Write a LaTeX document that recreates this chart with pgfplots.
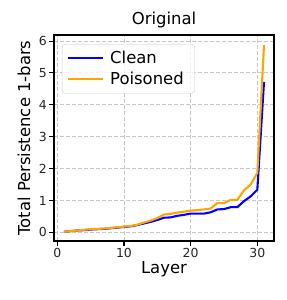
\documentclass[border=0pt]{standalone}
\usepackage{fontspec}
\setmainfont{DejaVu Sans}
\usepackage{pgfplots}
\pgfplotsset{compat=1.18}
\begin{document}
\begin{tikzpicture}[x=1bp,y=1bp]
\useasboundingbox (0,0) rectangle (287,300);
\begin{axis}[
  at={(54bp,59bp)}, anchor=south west,
  scale only axis, width=220bp, height=206bp,
  xmin=-0.5, xmax=32.5, ymin=-0.27, ymax=6.19,
  xtick={0,10,20,30}, ytick={0,1,2,3,4,5,6},
  /pgf/number format/assume math mode=true,
  tick label style={font=\fontsize{12.5}{14}\selectfont, text=black!85},
  ticklabel style={inner sep=2bp},
  label style={font=\fontsize{16.5}{19}\selectfont},
  title style={font=\fontsize{16.5}{19}\selectfont, yshift=-2bp},
  title={Original},
  xlabel={Layer}, ylabel={Total Persistence 1-bars},
  xlabel style={yshift=2bp},
  ylabel style={yshift=3bp},
  tick align=outside, tick pos=left,
  major tick length=4.9bp,
  every tick/.style={line width=1.1bp, black},
  axis line style={line width=1.1bp},
  grid=major,
  major grid style={line width=0.9bp, draw=black!22, dash pattern=on 4bp off 2bp},
  legend style={at={(0.036,0.956)}, anchor=north west, draw=black!20, rounded corners=3bp,
     fill=white, fill opacity=0.8, text opacity=1, font=\fontsize{16.5}{19}\selectfont,
     inner xsep=5bp, inner ysep=5bp, row sep=3bp,
     nodes={inner xsep=6bp, inner ysep=2bp}},
  legend cell align=left,
  legend image code/.code={\draw[#1] (0bp,0bp) -- (35bp,0bp);},
]
\addplot[blue, line width=2.1bp] coordinates {
(1,0.02)(2,0.04)(3,0.06)(4,0.07)(5,0.09)(6,0.10)(7,0.11)(8,0.13)(9,0.15)(10,0.17)
(11,0.19)(12,0.23)(13,0.28)(14,0.33)(15,0.39)(16,0.46)(17,0.47)(18,0.52)(19,0.55)(20,0.59)
(21,0.59)(22,0.59)(23,0.63)(24,0.72)(25,0.73)(26,0.79)(27,0.79)(28,0.98)(29,1.13)(30,1.34)(31,4.72)};
\addlegendentry{Clean}
\addplot[color={rgb,1:red,1;green,0.647;blue,0}, line width=2.1bp] coordinates {
(1,0.02)(2,0.04)(3,0.06)(4,0.08)(5,0.10)(6,0.11)(7,0.12)(8,0.14)(9,0.16)(10,0.18)
(11,0.20)(12,0.24)(13,0.31)(14,0.37)(15,0.45)(16,0.56)(17,0.58)(18,0.62)(19,0.65)(20,0.68)
(21,0.70)(22,0.72)(23,0.75)(24,0.92)(25,0.92)(26,1.02)(27,1.02)(28,1.32)(29,1.50)(30,1.87)(31,5.87)};
\addlegendentry{Poisoned}
\end{axis}
\end{tikzpicture}
\end{document}
